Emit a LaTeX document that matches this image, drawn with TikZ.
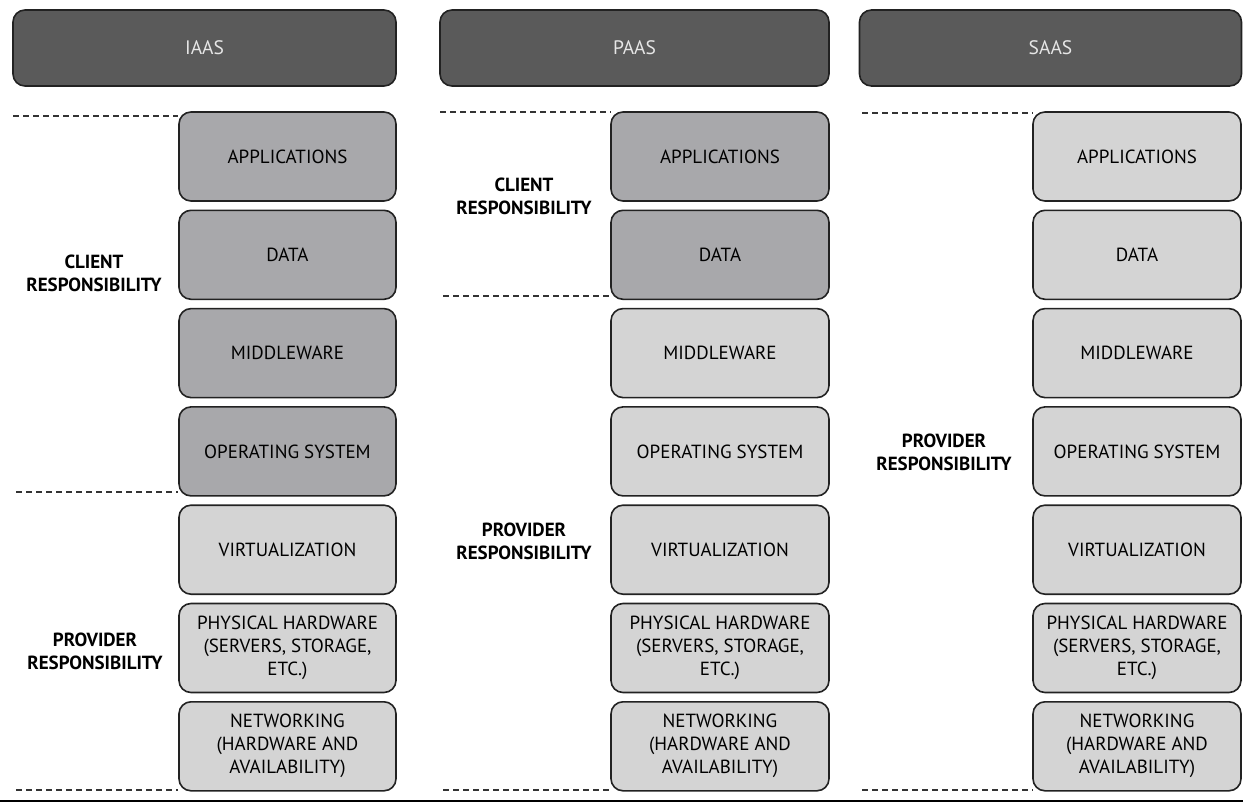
\documentclass[tikz,border=0pt]{standalone}
\usepackage{fontspec}
\setmainfont{PT Sans}
\definecolor{hdrfill}{HTML}{5A5A5A}
\definecolor{clientfill}{HTML}{A8A8AB}
\definecolor{provfill}{HTML}{D4D4D4}
\definecolor{edge}{HTML}{222222}
\definecolor{hdrtext}{HTML}{E6E6E6}
\tikzset{
  hdr/.style={draw=edge, line width=1.6pt, fill=hdrfill, rounded corners=12pt, minimum height=76pt, inner sep=0pt, text=hdrtext, font=\fontsize{19.5}{23}\selectfont},
  layer/.style={draw=edge, line width=1.6pt, rounded corners=12pt, minimum height=89pt, inner sep=0pt, align=center, font=\fontsize{19}{23}\selectfont, text=black},
  cl/.style={layer, fill=clientfill},
  pv/.style={layer, fill=provfill},
  resp/.style={align=center, font=\bfseries\fontsize{19}{23}\selectfont, text=black},
  sep/.style={dashed, dash pattern=on 6pt off 4pt, line width=1.2pt, draw=black!80},
}
\begin{document}
\begin{tikzpicture}[x=1pt,y=-1pt]
\useasboundingbox (0,0) rectangle (1243,803);
% headers
\node[hdr, minimum width=383pt] (hI) at (204.5,48) {IAAS};
\node[hdr, minimum width=389pt] (hP) at (634.5,48) {PAAS};
\node[hdr, minimum width=382pt] (hS) at (1050.5,48) {SAAS};
% IAAS column
\def\yA{156.5}\def\yB{254.8}\def\yC{353.1}\def\yD{451.4}\def\yE{549.7}\def\yF{648}\def\yG{746.3}
\node[cl, minimum width=217pt] (i1) at (287.5,\yA) {APPLICATIONS};
\node[cl, minimum width=217pt] (i2) at (287.5,\yB) {DATA};
\node[cl, minimum width=217pt] (i3) at (287.5,\yC) {MIDDLEWARE};
\node[cl, minimum width=217pt] (i4) at (287.5,\yD) {OPERATING SYSTEM};
\node[pv, minimum width=217pt] (i5) at (287.5,\yE) {VIRTUALIZATION};
\node[pv, minimum width=217pt] (i6) at (287.5,\yF) {PHYSICAL HARDWARE\\(SERVERS, STORAGE,\\ETC.)};
\node[pv, minimum width=217pt] (i7) at (287.5,\yG) {NETWORKING\\(HARDWARE AND\\AVAILABILITY)};
% PAAS column
\node[cl, minimum width=218pt] (p1) at (720,\yA) {APPLICATIONS};
\node[cl, minimum width=218pt] (p2) at (720,\yB) {DATA};
\node[pv, minimum width=218pt] (p3) at (720,\yC) {MIDDLEWARE};
\node[pv, minimum width=218pt] (p4) at (720,\yD) {OPERATING SYSTEM};
\node[pv, minimum width=218pt] (p5) at (720,\yE) {VIRTUALIZATION};
\node[pv, minimum width=218pt] (p6) at (720,\yF) {PHYSICAL HARDWARE\\(SERVERS, STORAGE,\\ETC.)};
\node[pv, minimum width=218pt] (p7) at (720,\yG) {NETWORKING\\(HARDWARE AND\\AVAILABILITY)};
% SAAS column
\node[pv, minimum width=208pt] (s1) at (1137,\yA) {APPLICATIONS};
\node[pv, minimum width=208pt] (s2) at (1137,\yB) {DATA};
\node[pv, minimum width=208pt] (s3) at (1137,\yC) {MIDDLEWARE};
\node[pv, minimum width=208pt] (s4) at (1137,\yD) {OPERATING SYSTEM};
\node[pv, minimum width=208pt] (s5) at (1137,\yE) {VIRTUALIZATION};
\node[pv, minimum width=208pt] (s6) at (1137,\yF) {PHYSICAL HARDWARE\\(SERVERS, STORAGE,\\ETC.)};
\node[pv, minimum width=208pt] (s7) at (1137,\yG) {NETWORKING\\(HARDWARE AND\\AVAILABILITY)};
% responsibility labels
\node[resp] (ic) at (94,273) {CLIENT\\RESPONSIBILITY};
\node[resp] (ip) at (95,651) {PROVIDER\\RESPONSIBILITY};
\node[resp] (pc) at (524,196) {CLIENT\\RESPONSIBILITY};
\node[resp] (pp) at (524,541) {PROVIDER\\RESPONSIBILITY};
\node[resp] (sp) at (944,452) {PROVIDER\\RESPONSIBILITY};
% dashed separators
\coordinate (d1) at (13,116);
\coordinate (d2) at (16,492);
\coordinate (d3) at (16,790);
\coordinate (d4) at (440,112);
\coordinate (d5) at (443,296);
\coordinate (d6) at (443,790);
\coordinate (d7) at (862,113);
\coordinate (d8) at (862,790);
\draw[sep] (d1) -- (d1 -| i1.west);
\draw[sep] (d2) -- (d2 -| i4.west);
\draw[sep] (d3) -- (d3 -| i7.west);
\draw[sep] (d4) -- (d4 -| p1.west);
\draw[sep] (d5) -- (d5 -| p2.west);
\draw[sep] (d6) -- (d6 -| p7.west);
\draw[sep] (d7) -- (d7 -| s1.west);
\draw[sep] (d8) -- (d8 -| s7.west);
% bottom rule
\coordinate (r1) at (0,801);
\coordinate (r2) at (1243,801);
\draw[line width=1.8pt, draw=black] (r1) -- (r2);
\end{tikzpicture}
\end{document}
